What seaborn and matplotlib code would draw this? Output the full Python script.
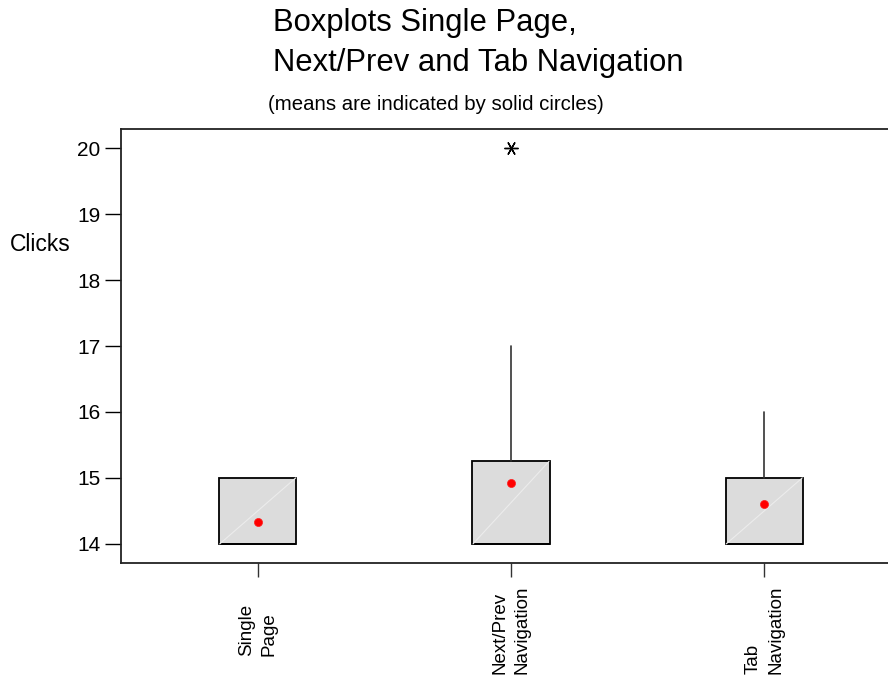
import matplotlib
matplotlib.use("Agg")
import matplotlib.pyplot as plt
import seaborn as sns
import pandas as pd

# Summary statistics of clicks per navigation style
categories = ["Single\nPage", "Next/Prev\nNavigation", "Tab\nNavigation"]
q1 = [14.0, 14.0, 14.0]
medians = [14.0, 14.0, 14.0]
q3 = [15.0, 15.25, 15.0]
whisker_low = [14.0, 14.0, 14.0]
whisker_high = [15.0, 17.0, 16.0]
means = [14.33, 14.93, 14.61]
outliers = [[], [20.0], []]
y_ticks = [14, 15, 16, 17, 18, 19, 20]

sns.set_theme(style="ticks")
plt.rcParams["font.family"] = ["Liberation Sans", "DejaVu Sans"]
plt.rcParams["text.color"] = "black"
plt.rcParams["xtick.color"] = "black"
plt.rcParams["ytick.color"] = "black"
plt.rcParams["xtick.labelcolor"] = "black"
plt.rcParams["ytick.labelcolor"] = "black"

fig = plt.figure(figsize=(8.88, 6.8), dpi=100)
ax = fig.add_axes([121 / 888, 117 / 680, 780 / 888, 434 / 680])

stats = []
for i, cat in enumerate(categories):
    stats.append(dict(label=cat, q1=q1[i], med=medians[i], q3=q3[i],
                      whislo=whisker_low[i], whishi=whisker_high[i],
                      mean=means[i], fliers=outliers[i]))

positions = list(range(len(categories)))
ax.bxp(stats, positions=positions, widths=0.305, patch_artist=True,
       showcaps=False, showmeans=False, showfliers=True,
       boxprops=dict(facecolor="#dcdcdc", edgecolor="black", linewidth=1.3),
       whiskerprops=dict(color="#333333", linewidth=1.2),
       medianprops=dict(color="black", linewidth=1.3),
       flierprops=dict(marker=(6, 2, 30), markersize=10,
                       markeredgecolor="black", markeredgewidth=1.0))

# faint diagonal across each box
for i in positions:
    ax.plot([i - 0.15, i + 0.15], [q1[i], q3[i]], color="#ececec",
            linewidth=0.8, zorder=2.5)

# means as solid red circles
mean_df = pd.DataFrame({"pos": positions, "mean": means})
sns.scatterplot(data=mean_df, x="pos", y="mean", ax=ax, color="#ff0000",
                s=34, edgecolor="#ff2020", linewidth=0.5, zorder=4,
                legend=False)

ax.set_xlim(-0.54, 2.54)
ax.set_ylim(13.71, 20.29)
ax.set_yticks(y_ticks)
ax.set_yticklabels([str(t) for t in y_ticks], fontsize=15)
ax.set_xticks(positions)
ax.set_xticklabels(categories, rotation=90, va="center", ha="center",
                   multialignment="left", fontsize=13.5, linespacing=1.45)
ax.set_xlabel("")
ax.set_ylabel("")

ax.tick_params(axis="y", length=11.5, width=1.0, pad=3.5, color="black")
ax.tick_params(axis="x", length=10, width=1.0, pad=38, color="#333333")
for side in ["top", "bottom", "left", "right"]:
    ax.spines[side].set_color("#222222")
    ax.spines[side].set_linewidth(1.3)
ax.grid(False)

fig.text(273 / 888, 1 - 23 / 680, "Boxplots Single Page,",
         ha="left", va="center", fontsize=22.3)
fig.text(273 / 888, 1 - 63 / 680, "Next/Prev and Tab Navigation",
         ha="left", va="center", fontsize=22.3)
fig.text(268 / 888, 1 - 104 / 680, "(means are indicated by solid circles)",
         ha="left", va="center", fontsize=14.7)
fig.text(10 / 888, 1 - 244 / 680, "Clicks", ha="left", va="center",
         fontsize=16.5)

fig.savefig("out.png", dpi=100)
